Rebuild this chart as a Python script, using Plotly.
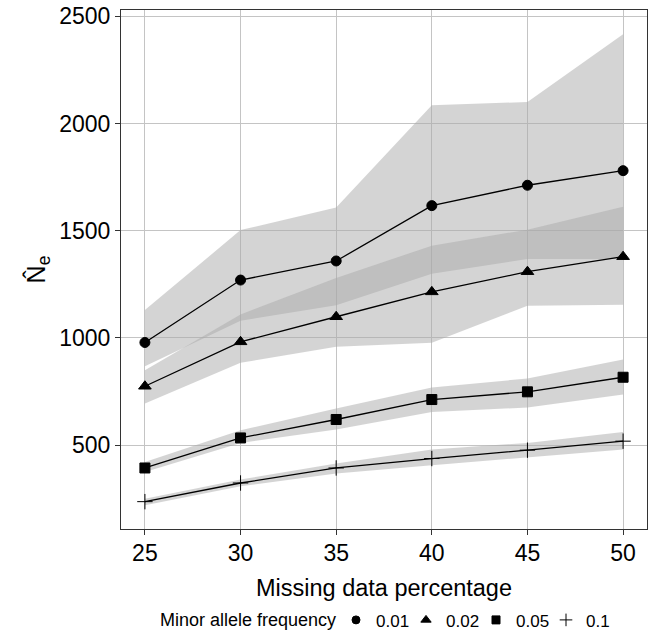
import plotly.graph_objects as go

missing_pct = [25, 30, 35, 40, 45, 50]
maf_labels = ["0.01", "0.02", "0.05", "0.1"]
legend_title = "Minor allele frequency"

ne_001 = [979, 1270, 1359, 1617, 1712, 1780]
lo_001 = [868, 1080, 1153, 1300, 1368, 1368]
hi_001 = [1130, 1503, 1608, 2085, 2100, 2416]

ne_002 = [775, 982, 1099, 1215, 1309, 1379]
lo_002 = [694, 884, 959, 978, 1150, 1155]
hi_002 = [850, 1110, 1280, 1430, 1505, 1612]

ne_005 = [394, 534, 620, 713, 749, 817]
lo_005 = [375, 511, 573, 655, 676, 737]
hi_005 = [422, 570, 671, 769, 811, 900]

ne_01 = [237, 324, 394, 438, 477, 519]
lo_01 = [220, 309, 368, 407, 445, 480]
hi_01 = [251, 340, 415, 480, 511, 562]

series = [
    (maf_labels[0], ne_001, lo_001, hi_001, "circle", 10),
    (maf_labels[1], ne_002, lo_002, hi_002, "triangle-up", 11),
    (maf_labels[2], ne_005, lo_005, hi_005, "square", 10),
    (maf_labels[3], ne_01, lo_01, hi_01, "cross-thin", 11),
]

FONT = "Liberation Sans, Arial, sans-serif"
fig = go.Figure()

for name, ne, lo, hi, sym, sz in series:
    fig.add_trace(go.Scatter(
        x=missing_pct + missing_pct[::-1],
        y=hi + lo[::-1],
        fill="toself", fillcolor="rgba(170,170,170,0.5)",
        line=dict(width=0), mode="lines", showlegend=False, hoverinfo="skip"))

for name, ne, lo, hi, sym, sz in series:
    fig.add_trace(go.Scatter(
        x=missing_pct, y=ne, mode="lines+markers", showlegend=False,
        line=dict(color="black", width=1.3),
        marker=dict(symbol=sym, size=sz, color="black",
                    line=dict(color="black", width=1))))

for name, ne, lo, hi, sym, sz in series:
    fig.add_trace(go.Scatter(
        x=[None], y=[None], mode="markers", name=name,
        marker=dict(symbol=sym, size=sz - 2, color="black",
                    line=dict(color="black", width=1))))

fig.add_annotation(text=legend_title, xref="paper", yref="paper",
                   x=(338 - 121) / 526, y=-0.176, xanchor="right", yanchor="middle",
                   showarrow=False, font=dict(size=18, family=FONT, color="black"))

fig.update_layout(
    width=651, height=632,
    margin=dict(l=121, r=4, t=10, b=103, autoexpand=False),
    paper_bgcolor="white", plot_bgcolor="white",
    font=dict(family=FONT, color="black"),
    legend=dict(orientation="h", x=(336 - 121) / 526, xanchor="left", y=-0.176, yanchor="middle",
                font=dict(size=17), itemwidth=30, tracegroupgap=0,
                entrywidth=25, entrywidthmode="pixels"),
    xaxis=dict(range=[23.75, 51.25], tickvals=missing_pct,
               ticks="outside", ticklen=5, tickcolor="#333", tickwidth=1,
               ticklabelstandoff=-2,
               showgrid=True, gridcolor="#c4c4c4", gridwidth=1.2,
               showline=True, linecolor="#333", linewidth=1.2, mirror=True,
               zeroline=False, tickfont=dict(size=23),
               title=dict(text="Missing data percentage", font=dict(size=23.5), standoff=14)),
    yaxis=dict(range=[109.5, 2529], tickvals=[500, 1000, 1500, 2000, 2500],
               ticks="outside", ticklen=5, tickcolor="#333", tickwidth=1,
               showgrid=True, gridcolor="#c4c4c4", gridwidth=1.2,
               showline=True, linecolor="#333", linewidth=1.2, mirror=True,
               zeroline=False, tickfont=dict(size=23),
               title=dict(text="N\u0302<sub>e</sub>", font=dict(size=25), standoff=6)),
)

fig.write_html("out.html")
